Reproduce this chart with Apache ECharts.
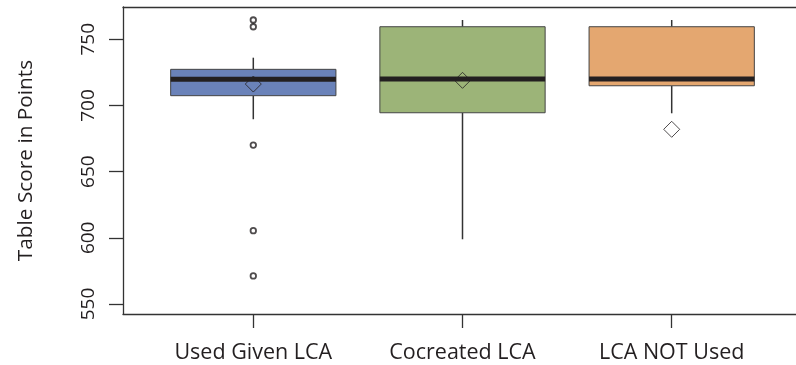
<!DOCTYPE html>
<html><head><meta charset="utf-8">
<script src="https://cdn.jsdelivr.net/npm/echarts@6/dist/echarts.min.js"></script>
<style>html,body{margin:0;padding:0;background:#fff}#c{width:796px;height:365px}</style>
</head><body><div id="c"></div>
<script>
// ---- data ----
const categories = ['Used Given LCA', 'Cocreated LCA', 'LCA NOT Used'];
const whiskerLow  = [689.6, 598.9, 694.1];
const q1          = [707.4, 694.5, 714.9];
const median      = [719.8, 720.0, 720.0];
const q3          = [727.3, 759.5, 759.5];
const whiskerHigh = [736.1, 764.6, 764.6];
const means       = [716.2, 719.0, 682.0];
const outlierGroup = [0, 0, 0, 0, 0];
const outlierValue = [764.6, 759.5, 670.1, 605.4, 571.2];
const yTicks = [550, 600, 650, 700, 750];
const yAxisTitle = 'Table Score in Points';

// ---- styles ----
const boxColors = ['#6a82b9', '#9cb478', '#e4a770'];
const FONT = '"Open Sans", sans-serif';
const TXT = '#231f20';
const LINE = '#333333';
const BOXWEX = 0.79;

const boxData = categories.map((c, i) => [i, whiskerLow[i], q1[i], median[i], q3[i], whiskerHigh[i]]);
const medianData = categories.map((c, i) => [i, median[i]]);
const meanData = categories.map((c, i) => [i, means[i]]);
const outlierData = outlierValue.map((v, k) => [outlierGroup[k], v]);

const frameLine = {show: true, lineStyle: {color: LINE, width: 1.3}};
const noBits = {axisTick: {show: false}, axisLabel: {show: false}, splitLine: {show: false}};

const chart = echarts.init(document.getElementById('c'), null, {renderer: 'canvas'});
chart.setOption({
  animation: false,
  backgroundColor: '#ffffff',
  grid: [
    {left: 148.7, top: 39.3, width: 627.6, height: 264.7, show: false},
    {left: 123, top: 7, width: 678, height: 307, show: false}
  ],
  xAxis: [
    {
      gridIndex: 0, type: 'category', data: categories, boundaryGap: true, offset: 10,
      axisLine: {show: false},
      axisTick: {show: true, alignWithLabel: true, length: 14, lineStyle: {color: LINE, width: 1.3}},
      axisLabel: {margin: 28, fontSize: 21.5, fontFamily: FONT, color: TXT},
      splitLine: {show: false}
    },
    Object.assign({gridIndex: 1, type: 'value', min: 0, max: 1, position: 'bottom', axisLine: frameLine}, noBits),
    Object.assign({gridIndex: 1, type: 'value', min: 0, max: 1, position: 'top', axisLine: frameLine}, noBits)
  ],
  yAxis: [
    {
      gridIndex: 0, type: 'value', min: yTicks[0], max: yTicks[yTicks.length - 1],
      interval: yTicks[1] - yTicks[0], offset: 25.7,
      axisLine: {show: false},
      axisTick: {show: true, length: 14, lineStyle: {color: LINE, width: 1.3}},
      axisLabel: {rotate: 90, align: 'center', verticalAlign: 'bottom', margin: 24.5,
                  fontSize: 19, fontFamily: FONT, color: TXT},
      splitLine: {show: false}
    },
    Object.assign({
      gridIndex: 1, type: 'value', min: 0, max: 1, position: 'left', axisLine: frameLine,
      name: yAxisTitle, nameLocation: 'middle', nameRotate: 90, nameGap: 86,
      nameTextStyle: {fontSize: 20.8, fontFamily: FONT, color: TXT, align: 'center', verticalAlign: 'bottom'}
    }, noBits)
  ],
  series: [
    {
      type: 'custom', xAxisIndex: 0, yAxisIndex: 0, z: 2, clip: false,
      data: boxData,
      encode: {x: 0, y: [1, 2, 3, 4, 5]},
      renderItem: function (params, api) {
        const i = api.value(0);
        const half = api.size([1, 0])[0] * BOXWEX / 2;
        const pLo = api.coord([i, api.value(1)]);
        const pQ1 = api.coord([i, api.value(2)]);
        const pQ3 = api.coord([i, api.value(4)]);
        const pHi = api.coord([i, api.value(5)]);
        return {
          type: 'group',
          children: [
            {type: 'line', shape: {x1: pHi[0], y1: pHi[1], x2: pQ3[0], y2: pQ3[1]},
             style: {stroke: LINE, lineWidth: 1.5}},
            {type: 'line', shape: {x1: pQ1[0], y1: pQ1[1], x2: pLo[0], y2: pLo[1]},
             style: {stroke: LINE, lineWidth: 1.5}},
            {type: 'rect', shape: {x: pQ3[0] - half, y: pQ3[1], width: 2 * half, height: pQ1[1] - pQ3[1]},
             style: {fill: boxColors[params.dataIndex], stroke: '#444444', lineWidth: 1}}
          ]
        };
      }
    },
    {
      type: 'scatter', xAxisIndex: 0, yAxisIndex: 0, z: 3, clip: false,
      data: meanData, symbol: 'diamond', symbolSize: 16,
      itemStyle: {color: 'rgba(0,0,0,0)', borderColor: TXT, borderWidth: 1}
    },
    {
      type: 'custom', xAxisIndex: 0, yAxisIndex: 0, z: 4, clip: false,
      data: medianData,
      encode: {x: 0, y: 1},
      renderItem: function (params, api) {
        const i = api.value(0);
        const half = api.size([1, 0])[0] * BOXWEX / 2;
        const p = api.coord([i, api.value(1)]);
        return {type: 'line', shape: {x1: p[0] - half, y1: p[1], x2: p[0] + half, y2: p[1]},
                style: {stroke: TXT, lineWidth: 5}};
      }
    },
    {
      type: 'scatter', xAxisIndex: 0, yAxisIndex: 0, z: 3, clip: false,
      data: outlierData, symbol: 'circle', symbolSize: 5.5,
      itemStyle: {color: '#ffffff', borderColor: TXT, borderWidth: 1.8}
    }
  ]
});
</script>
</body></html>
